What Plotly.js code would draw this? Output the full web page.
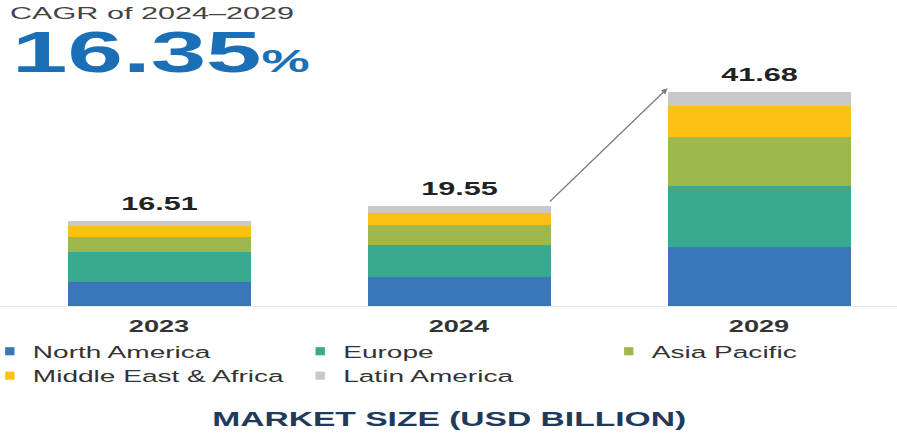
<!DOCTYPE html>
<html><head><meta charset="utf-8">
<script src="https://cdn.plot.ly/plotly-3.0.1.min.js"></script>
<style>html,body{margin:0;padding:0;background:#fff}#chart{width:897px;height:437px}</style>
</head><body><div id="chart"></div>
<script>
const years = ['2023', '2024', '2029'];
const regions = ['North America', 'Europe', 'Asia Pacific', 'Middle East & Africa', 'Latin America'];
const northAmerica = [4.72, 5.59, 11.53];
const europe = [5.70, 6.30, 11.81];
const asiaPacific = [2.95, 3.90, 9.59];
const middleEastAfrica = [2.16, 2.28, 5.97];
const latinAmerica = [0.98, 1.48, 2.78];
const totals = [16.51, 19.55, 41.68];
const totalLabels = ['16.51', '19.55', '41.68'];
const cagrLabel = 'CAGR of 2024–2029';
const cagrValue = '16.35';
const chartTitle = 'MARKET SIZE (USD BILLION)';

const series = [northAmerica, europe, asiaPacific, middleEastAfrica, latinAmerica];
const colors = ['#3a77b8', '#39a98f', '#9db94e', '#fdc015', '#c9c9c9'];
const legendIds = ['legend', 'legend2', 'legend3', 'legend', 'legend2'];

const FONT = 'Liberation Sans, Arial, sans-serif';

const data = series.map((vals, i) => ({
  type: 'bar',
  name: regions[i],
  x: years,
  y: vals,
  marker: {color: colors[i], line: {width: 0}},
  legend: legendIds[i],
  legendgroup: 'g' + i,
  hoverinfo: 'skip'
}));

const legendBase = {
  orientation: 'v', traceorder: 'normal', yanchor: 'top', y: -0.109, xanchor: 'left',
  font: {family: FONT, size: 16.5, color: '#333333'}, bgcolor: 'rgba(0,0,0,0)',
  tracegroupgap: 9, itemwidth: 30, borderwidth: 0
};

const annotations = [];
const stretchK = [];
const stretchOrigin = [];
years.forEach((yr, i) => {
  // category axis: position given as category index
  annotations.push({x: i, y: totals[i], xref: 'x', yref: 'y', text: totalLabels[i],
    showarrow: false, yanchor: 'bottom', yshift: 5,
    font: {family: FONT, size: 18, color: '#222222', weight: 'bold'}});
  stretchK.push(1.7); stretchOrigin.push('center');
});
annotations.push({x: 0.009, y: 1.138, xref: 'paper', yref: 'paper', xanchor: 'left', yanchor: 'middle',
  text: cagrLabel, showarrow: false, font: {family: FONT, size: 17, color: '#444444'}});
stretchK.push(1.8); stretchOrigin.push('left center');
annotations.push({x: 0.011, y: 0.988, xref: 'paper', yref: 'paper', xanchor: 'left', yanchor: 'middle',
  text: cagrValue + '<span style="font-size:31px">%</span>', showarrow: false,
  font: {family: FONT, size: 57, color: '#1a6fb6', weight: 'bold'}});
stretchK.push(1.75); stretchOrigin.push('left center');
annotations.push({x: 0.5, y: -0.436, xref: 'paper', yref: 'paper', xanchor: 'center', yanchor: 'middle',
  text: chartTitle, showarrow: false, font: {family: FONT, size: 21, color: '#1f3a5a', weight: 'bold'}});
stretchK.push(1.6); stretchOrigin.push('center');
annotations.push({x: 1.695, y: totals[2] + 0.7, ax: 1.298, ay: totals[1] + 0.5, xref: 'x', yref: 'y',
  axref: 'x', ayref: 'y', text: '', showarrow: true, arrowhead: 2, arrowsize: 1, arrowwidth: 1.2,
  arrowcolor: '#7a7a7a'});
stretchK.push(0); stretchOrigin.push('');

const layout = {
  width: 897, height: 437,
  margin: {l: 0, r: 0, t: 49, b: 131, autoexpand: false},
  paper_bgcolor: '#ffffff', plot_bgcolor: '#ffffff',
  barmode: 'stack', bargap: 0.39,
  font: {family: FONT},
  xaxis: {type: 'category', range: [-0.53, 2.46], showline: true, linecolor: '#e6e6e6', linewidth: 1,
    showgrid: false, zeroline: false, ticks: '', ticklabelstandoff: 6,
    tickfont: {family: FONT, size: 16, color: '#333333', weight: 'bold'}, fixedrange: true},
  yaxis: {range: [0, 50], visible: false, fixedrange: true},
  showlegend: true,
  legend: Object.assign({}, legendBase, {x: -0.008}),
  legend2: Object.assign({}, legendBase, {x: 0.338}),
  legend3: Object.assign({}, legendBase, {x: 0.682}),
  annotations: annotations
};

function getTranslate(el) {
  const t = el.getAttribute('transform') || '';
  const m = t.match(/translate\(\s*([-\d.e]+)[\s,]*([-\d.e]*)\s*\)/);
  if (m) return [parseFloat(m[1]) || 0, parseFloat(m[2]) || 0];
  return [0, 0];
}

function stretch(el, k, origin) {
  if (el.dataset.stretched) return;
  el.dataset.stretched = '1';
  const tr = getTranslate(el);
  el.style.transformBox = 'fill-box';
  el.style.transformOrigin = origin;
  el.style.transform = 'translate(' + tr[0] + 'px,' + tr[1] + 'px) scaleX(' + k + ')';
}

function applyStretch(gd) {
  gd.querySelectorAll('g.annotation').forEach(function (g) {
    const idx = parseInt(g.getAttribute('data-index'), 10);
    const k = stretchK[idx];
    if (!k) return;
    const t = g.querySelector('text');
    if (t) stretch(t, k, stretchOrigin[idx]);
  });
  gd.querySelectorAll('text').forEach(function (t) {
    const s = t.textContent;
    if (regions.indexOf(s) >= 0) stretch(t, 1.7, 'left center');
    else if (years.indexOf(s) >= 0) stretch(t, 1.7, 'center');
  });
  gd.querySelectorAll('[clip-path]').forEach(function (s) {
    const c = s.getAttribute('clip-path') || '';
    if (c.indexOf('legend') >= 0) s.removeAttribute('clip-path');
  });
  gd.querySelectorAll('g.legendpoints path').forEach(function (p) {
    if (p.dataset.shrunk) return;
    p.dataset.shrunk = '1';
    const tr = getTranslate(p);
    p.style.transformBox = 'fill-box';
    p.style.transformOrigin = 'center';
    p.style.transform = 'translate(' + (tr[0] - 3) + 'px,' + tr[1] + 'px) scale(0.78,0.68)';
  });
}

const gd = document.getElementById('chart');
Plotly.newPlot(gd, data, layout, {displayModeBar: false, staticPlot: true}).then(function () {
  applyStretch(gd);
  setTimeout(function () { applyStretch(gd); }, 100);
});
</script>
</body></html>
